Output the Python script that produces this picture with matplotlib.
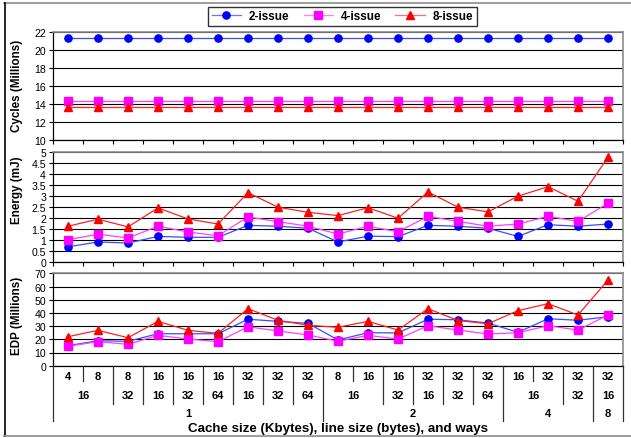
import matplotlib
matplotlib.use("Agg")
import matplotlib.pyplot as plt
from matplotlib.lines import Line2D
from matplotlib.transforms import blended_transform_factory

plt.rcParams['font.family'] = ['Liberation Sans', 'DejaVu Sans']

# Cache configurations: size (KB), line size (bytes), associativity (ways)
cache_kb = [4, 8, 8, 16, 16, 16, 32, 32, 32, 8, 16, 16, 32, 32, 32, 16, 32, 32, 32]
line_bytes = [16, 16, 32, 16, 32, 64, 16, 32, 64, 16, 16, 32, 16, 32, 64, 16, 16, 32, 16]
ways = [1, 1, 1, 1, 1, 1, 1, 1, 1, 2, 2, 2, 2, 2, 2, 4, 4, 4, 8]

series_names = ['2-issue', '4-issue', '8-issue']

# Execution cycles (millions)
cycles_2 = [21.4] * 19
cycles_4 = [14.4] * 19
cycles_8 = [13.7] * 19

# Energy (mJ)
energy_2 = [0.70, 0.92, 0.87, 1.17, 1.13, 1.13, 1.67, 1.63, 1.54, 0.92,
            1.18, 1.16, 1.67, 1.63, 1.54, 1.17, 1.70, 1.63, 1.73]
energy_4 = [1.02, 1.27, 1.10, 1.63, 1.37, 1.20, 2.05, 1.84, 1.63, 1.28,
            1.63, 1.38, 2.08, 1.85, 1.63, 1.73, 2.08, 1.85, 2.67]
energy_8 = [1.63, 1.95, 1.60, 2.46, 1.96, 1.73, 3.15, 2.49, 2.26, 2.11,
            2.47, 1.99, 3.18, 2.49, 2.28, 2.99, 3.42, 2.76, 4.75]

# Energy-delay product (millions)
edp_2 = [15.2, 18.9, 18.5, 24.2, 24.2, 24.2, 35.2, 33.6, 32.1, 19.5,
         25.0, 24.8, 35.2, 34.8, 32.3, 25.3, 35.6, 34.4, 37.1]
edp_4 = [14.7, 18.2, 16.2, 23.0, 20.2, 18.2, 29.5, 26.3, 23.3, 18.5,
         23.0, 20.2, 30.3, 27.0, 24.0, 25.0, 30.3, 27.0, 38.4]
edp_8 = [22.0, 26.8, 21.2, 33.6, 26.8, 24.5, 43.2, 34.4, 30.6, 29.1,
         33.6, 27.0, 43.2, 34.2, 31.8, 41.7, 47.0, 38.4, 64.9]

W, H = 631, 439
fig = plt.figure(figsize=(W / 100, H / 100), dpi=100)
fig.patch.set_facecolor('white')


def fx(px):
    return px / W


def fy(py):
    return 1 - py / H


left_px, right_px = 53, 623
panels = [
    (33.3, 141.0, (10, 22), [10, 12, 14, 16, 18, 20, 22], ['10', '12', '14', '16', '18', '20', '22'],
     (cycles_2, cycles_4, cycles_8)),
    (152.7, 263.3, (0, 5), [i * 0.5 for i in range(11)],
     ['0', '0.5', '1', '1.5', '2', '2.5', '3', '3.5', '4', '4.5', '5'],
     (energy_2, energy_4, energy_8)),
    (274.3, 366.7, (0, 70), list(range(0, 71, 10)), [str(v) for v in range(0, 71, 10)],
     (edp_2, edp_4, edp_8)),
]

styles = [
    dict(color='#3a4cff', marker='o', markerfacecolor='#0000ff', markeredgecolor='#0000ff', markersize=5.2),
    dict(color='#ff40ff', marker='s', markerfacecolor='#ff00ff', markeredgecolor='#ff00ff', markersize=5.2),
    dict(color='#ff2020', marker='^', markerfacecolor='#ff0000', markeredgecolor='#ff0000', markersize=6.0),
]

n = len(cache_kb)
xs = list(range(1, n + 1))
axes = []
for top, bot, ylim, yt, ytl, data in panels:
    ax = fig.add_axes([fx(left_px), fy(bot), fx(right_px - left_px), (bot - top) / H])
    ax.set_xlim(0.5, n + 0.5)
    ax.set_ylim(*ylim)
    ax.set_yticks(yt)
    ax.set_yticklabels(ytl)
    ax.yaxis.grid(True, color='black', linewidth=0.8)
    ax.set_axisbelow(True)
    for s in ('top', 'right'):
        ax.spines[s].set_color('#8c8c8c')
        ax.spines[s].set_linewidth(1.2)
    ax.spines['left'].set_color('black')
    ax.spines['bottom'].set_color('black')
    ax.spines['left'].set_linewidth(0.9)
    ax.spines['bottom'].set_linewidth(0.9)
    ax.tick_params(axis='y', direction='out', length=3, width=0.8, labelsize=7.6, pad=2)
    ax.set_xticks([k + 0.5 for k in range(n + 1)])
    ax.set_xticklabels([])
    ax.tick_params(axis='x', direction='out', length=3, width=0.8)
    for vals, name, st in zip(data, series_names, styles):
        ax.plot(xs, vals, linewidth=0.9, label=name, clip_on=False, zorder=3, **st)
    axes.append(ax)

ax_edp = axes[2]
ax_edp.tick_params(axis='x', length=0)

# Multi-level category axis under the bottom panel
tr = blended_transform_factory(ax_edp.transData, fig.transFigure)
y0 = fy(366.7)
y_lvl = {1: fy(382), 2: fy(405), 3: fy(422)}
for k in range(n + 1):
    if k == 0 or k == n:
        lvl = 3
    elif ways[k - 1] != ways[k]:
        lvl = 3
    elif line_bytes[k - 1] != line_bytes[k]:
        lvl = 2
    else:
        lvl = 1
    fig.add_artist(Line2D([k + 0.5, k + 0.5], [y0, y_lvl[lvl]], transform=tr,
                          color='#333333', linewidth=0.9))

lab_kw = dict(transform=tr, ha='center', va='center', fontsize=8, fontweight='bold')
for i in range(n):
    fig.text(xs[i], fy(377), str(cache_kb[i]), **lab_kw)


def runs(keys):
    out = []
    start = 0
    for i in range(1, len(keys) + 1):
        if i == len(keys) or keys[i] != keys[start]:
            out.append((start, i - 1, keys[start]))
            start = i
    return out


for a, b, key in runs(list(zip(ways, line_bytes))):
    fig.text((xs[a] + xs[b]) / 2, fy(396), str(key[1]), **lab_kw)
for a, b, key in runs(ways):
    fig.text((xs[a] + xs[b]) / 2, fy(414.3), str(key), **lab_kw)

fig.text(fx(338), fy(429), 'Cache size (Kbytes), line size (bytes), and ways',
         ha='center', va='center', fontsize=9.6, fontweight='bold')

# Axis titles
fig.text(fx(17), fy(86), 'Cycles (Millions)', rotation=90, ha='center', va='center',
         fontsize=8.4, fontweight='bold')
fig.text(fx(17), fy(190), 'Energy (mJ)', rotation=90, ha='center', va='center',
         fontsize=8.4, fontweight='bold')
fig.text(fx(17), fy(316), 'EDP (Millions)', rotation=90, ha='center', va='center',
         fontsize=8.4, fontweight='bold')

# Legend
handles = [Line2D([], [], linewidth=0.9, **dict(st, color=c))
           for st, c in zip(styles, ['#6a78ff', '#ff80ff', '#ff7070'])]
leg = fig.legend(handles, series_names, loc='center', bbox_to_anchor=(fx(342.5), fy(17.4)),
                 ncol=3, frameon=True, fancybox=False, edgecolor='black',
                 prop=dict(size=8.4, weight='bold'), handlelength=2.5, columnspacing=1.2,
                 handletextpad=0.7, borderpad=0.3)
leg.get_frame().set_linewidth(1.0)

# Outer chart frame
fig.add_artist(Line2D([fx(4), 1], [fy(3.5), fy(3.5)], transform=fig.transFigure, color='#8c8c8c', linewidth=1.2))
fig.add_artist(Line2D([fx(4.5), fx(4.5)], [fy(3.5), fy(437)], transform=fig.transFigure, color='black', linewidth=1.2))
fig.add_artist(Line2D([fx(4), 1], [fy(437), fy(437)], transform=fig.transFigure, color='#8c8c8c', linewidth=1.2))

fig.savefig('out.png', dpi=100, facecolor='white')
